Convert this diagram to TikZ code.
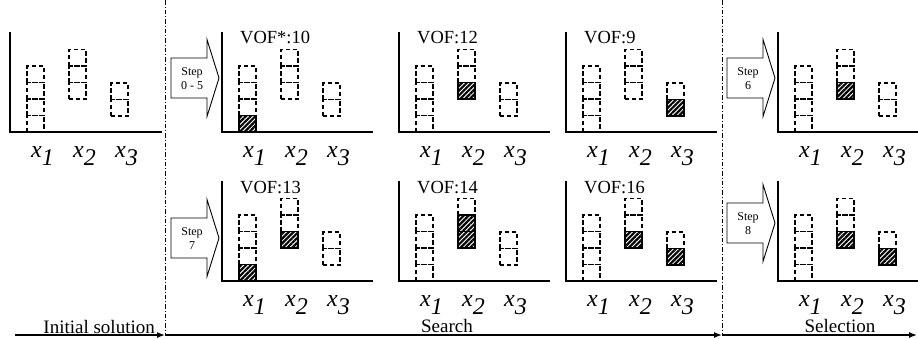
\documentclass[tikz,border=0pt]{standalone}
\usepackage{fontspec}
\setmainfont{Liberation Serif}
\usetikzlibrary{patterns.meta,arrows.meta}
\tikzset{
  axisline/.style={line width=1.3pt},
  dbox/.style={draw, line width=1.1pt, dash pattern=on 4.5pt off 2.5pt},
  hbox/.style={fill=white, draw, line width=1.3pt},
  hpat/.style={pattern={Lines[angle=45,distance=3.4pt,line width=2.2pt]}, pattern color=black},
  xlab/.style={inner sep=0pt, anchor=base west, font=\fontsize{24}{24}\selectfont},
  vof/.style={inner sep=0pt, anchor=base west, font=\fontsize{18.5}{20}\selectfont},
  sarrow/.style={draw, line width=0.9pt, fill=white},
  steptext/.style={inner sep=0pt, align=center, font=\fontsize{12}{14}\selectfont},
  tline/.style={line width=1.4pt, -{Latex[length=8pt,width=6pt]}},
  ddot/.style={line width=0.9pt, dash pattern=on 4.5pt off 2pt on 1pt off 2pt},
  tlab/.style={inner sep=0pt, font=\fontsize{19}{20}\selectfont},
}
\newcommand\xl[1]{\textit{x}\raisebox{-8pt}{\textit{#1}}}
% cell: col, k, style
\newcommand\cellat[3]{%
  \pgfmathsetmacro\cx{ifthenelse(#1==1,17,ifthenelse(#1==2,59,101))}%
  \pgfmathsetmacro\cb{ifthenelse(#1==1,0,ifthenelse(#1==2,33,16))}%
  \pgfmathsetmacro\cyl{-\cb-(#2-1)*16.5}%
  \pgfmathsetmacro\cyh{-\cb-#2*16.5}%
  \path[#3] (\cx,\cyl) rectangle (\cx+17,\cyh);%
}
% hatched cell
\newcommand\hcell[2]{\cellat{#1}{#2}{hbox}\cellat{#1}{#2}{hpat}\cellat{#1}{#2}{draw,line width=1.3pt}}
% chart: x, y, axis length, name
\newcommand\chart[4]{%
  \draw[axisline] (0,-100) -- (0,0) -- (#3,0);
  \foreach \k in {1,...,4} {\cellat{1}{\k}{dbox}}
  \foreach \k in {1,2,3} {\cellat{2}{\k}{dbox}}
  \foreach \k in {1,2} {\cellat{3}{\k}{dbox}}
  \node[xlab] (#4x1) at (21,25) {\xl{1}};
  \node[xlab] (#4x2) at (63,25) {\xl{2}};
  \node[xlab] (#4x3) at (105,25) {\xl{3}};
}
% step arrow: x0, ymid, text, name
\newcommand\steparrow[4]{%
  \draw[sarrow] (#1,#2-20) -- (#1+36,#2-20) -- (#1+36,#2-38.5) -- (#1+48,#2)
     -- (#1+36,#2+38.5) -- (#1+36,#2+20) -- (#1,#2+20) -- cycle;
  \node[steptext] (#4) at (#1+21,#2+1) {#3};
}
\begin{document}
\begin{tikzpicture}[x=1pt,y=-1pt]
\useasboundingbox (0,0) rectangle (918,338);
% dash-dot separators
\coordinate (s1t) at (165,0); \coordinate (s1b) at (165,333);
\coordinate (s2t) at (722,0); \coordinate (s2b) at (722,333);
\draw[ddot] (s1t) -- (s1b);
\draw[ddot] (s2t) -- (s2b);
% initial
\begin{scope}[shift={(10,132)}] \chart{0}{0}{152}{pa} \end{scope}
% top row
\begin{scope}[shift={(222,132)}] \chart{0}{0}{151}{pb}
  \node[vof] (vb) at (18,-88.5) {VOF*:10}; \hcell{1}{1} \end{scope}
\begin{scope}[shift={(399,132)}] \chart{0}{0}{151}{pc}
  \node[vof] (vc) at (18,-88.5) {VOF:12}; \hcell{2}{1} \end{scope}
\begin{scope}[shift={(566,132)}] \chart{0}{0}{151}{pd}
  \node[vof] (vd) at (18,-88.5) {VOF:9}; \hcell{3}{1} \end{scope}
\begin{scope}[shift={(778,132)}] \chart{0}{0}{140}{pe}
  \hcell{2}{1} \end{scope}
% bottom row
\begin{scope}[shift={(222,281)}] \chart{0}{0}{151}{qb}
  \node[vof] (wb) at (18,-87.5) {VOF:13}; \hcell{1}{1} \hcell{2}{1} \end{scope}
\begin{scope}[shift={(399,281)}] \chart{0}{0}{151}{qc}
  \node[vof] (wc) at (18,-87.5) {VOF:14}; \hcell{2}{1} \hcell{2}{2} \end{scope}
\begin{scope}[shift={(566,281)}] \chart{0}{0}{151}{qd}
  \node[vof] (wd) at (18,-87.5) {VOF:16}; \hcell{2}{1} \hcell{3}{1} \end{scope}
\begin{scope}[shift={(778,281)}] \chart{0}{0}{140}{qe}
  \hcell{2}{1} \hcell{3}{1} \end{scope}
% step arrows
\steparrow{171}{78}{Step\\0 - 5}{st1}
\steparrow{727}{78}{Step\\6}{st2}
\steparrow{171}{238}{Step\\7}{st3}
\steparrow{727}{223}{Step\\8}{st4}
% timeline
\coordinate (t0) at (15,335);
\coordinate (t1) at (165,335);
\coordinate (t2) at (722,335);
\coordinate (t3) at (917,335);
\draw[tline] (t0) -- (t1);
\draw[tline] (t1) -- (t2);
\draw[tline] (t2) -- (t3);
\node[tlab, anchor=base east] (li) at (155,333) {Initial solution};
\node[tlab, anchor=base] (ls) at (447,332.5) {Search};
\node[tlab, anchor=base] (lsel) at (840,332.5) {Selection};
\end{tikzpicture}
\end{document}
